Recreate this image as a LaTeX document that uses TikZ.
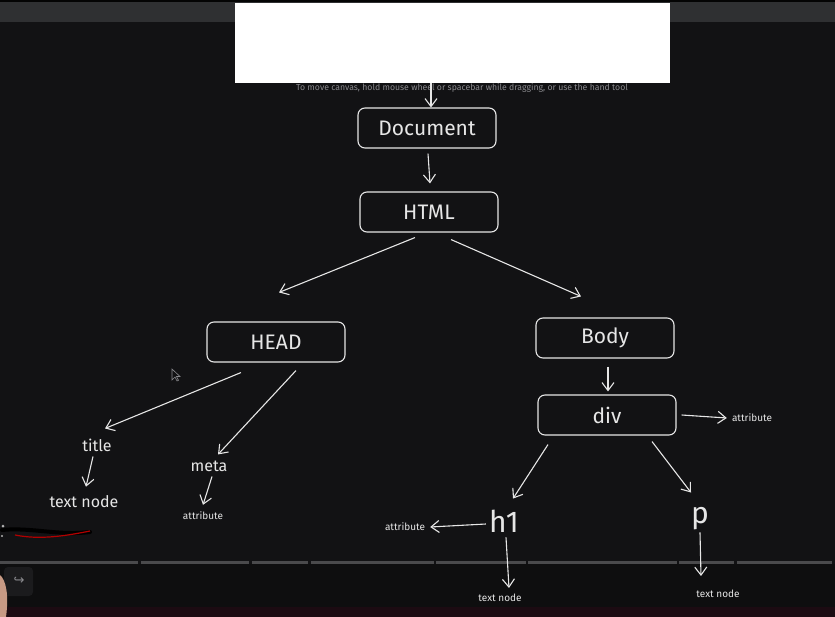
\documentclass[tikz,border=0pt]{standalone}
\usepackage{fontspec}
\setmainfont{Fira Sans}
\newfontfamily\symfont{DejaVu Sans}
\usetikzlibrary{arrows.meta}
\definecolor{bg}{HTML}{121214}
\definecolor{topbar}{HTML}{2F3032}
\definecolor{ink}{HTML}{E6E6E6}
\definecolor{hint}{HTML}{8A8A8E}
\definecolor{seg}{HTML}{4A4A4C}
\definecolor{bottom}{HTML}{0E0E0F}
\definecolor{strip}{HTML}{1C0B12}
\definecolor{btn}{HTML}{1B1B1D}
\definecolor{skin}{HTML}{C79A84}
\tikzset{
  treebox/.style={draw=ink, line width=1.1pt, rounded corners=7pt, minimum width=138pt, minimum height=40pt, text=ink, font=\fontsize{21}{24}\selectfont},
  lbl/.style={text=ink, inner sep=1pt},
  big/.style={lbl, font=\fontsize{30}{34}\selectfont},
  mid/.style={lbl, font=\fontsize{16}{19}\selectfont},
  small/.style={lbl, font=\fontsize{10}{12}\selectfont},
  conn/.style={draw=ink, line width=1.1pt, -{Straight Barb[length=8pt,width=12pt,line width=1.1pt]}},
  segline/.style={draw=seg, line width=3pt}
}
\begin{document}
\begin{tikzpicture}[x=1pt,y=-1pt]
\useasboundingbox (0,0) rectangle (835,617);
\fill[bg] (0,0) rectangle (835,617);
\fill[topbar] (0,2) rectangle (835,22);
\fill[black!80!bg] (0,0) rectangle (835,2);
\fill[bottom] (0,564) rectangle (835,607);
\fill[strip] (0,607) rectangle (835,617);
% white box
\fill[white] (235,3) rectangle (670,83);
\node[text=hint, font=\fontsize{8.7}{10}\selectfont] (hintt) at (462,88) {To move canvas, hold mouse wheel or spacebar while dragging, or use the hand tool};
% segments
\foreach \a/\b in {0/138,141/249,252/308,311/434,436/526,528/677,679/734,737/832}
  \draw[segline] (\a,562) -- (\b,562);
% boxes
\node[treebox] (doc) at (427,128) {Document};
\node[treebox] (html) at (429,212) {HTML};
\node[treebox] (head) at (276,342) {HEAD};
\node[treebox] (body) at (605,338) {Body};
\node[treebox] (div) at (607,415) {div};
% labels
\node[mid] (title) at (97,445) {title};
\node[mid] (tn1) at (84,502) {text node};
\node[mid] (meta) at (209,466) {meta};
\node[small] (at1) at (203,516) {attribute};
\node[small] (at2) at (752,418) {attribute};
\node[big] (h1) at (504,521) {h1};
\node[small] (at3) at (405,527) {attribute};
\node[small] (tn2) at (500,598) {text node};
\node[big] (p) at (700,519) {p};
\node[small] (tn3) at (718,594) {text node};
% top arrow
\coordinate (topin) at (431,83);
\draw[conn] (topin) -- (doc.north -| topin);
% connectors
\draw[conn] ([xshift=1pt,yshift=-5pt]doc.south) -- ([xshift=1pt,yshift=8pt]html.north);
\draw[conn] ([xshift=-14pt,yshift=-5pt]html.south) -- ([xshift=3pt,yshift=29pt]head.north);
\draw[conn] ([xshift=22pt,yshift=-7pt]html.south) -- ([xshift=-24pt,yshift=21pt]body.north);
\draw[conn] ([xshift=3pt,yshift=-8pt]body.south) -- ([xshift=1pt,yshift=3pt]div.north);
\draw[conn] ([xshift=5pt]div.east) -- ([xshift=-4pt]at2.west);
\draw[conn] ([xshift=-35pt,yshift=-10pt]head.south) -- ([xshift=8pt,yshift=9pt]title.north);
\draw[conn] ([xshift=20pt,yshift=-8pt]head.south) -- ([xshift=9pt,yshift=5pt]meta.north);
\draw[conn] ([xshift=-4pt,yshift=-4pt]title.south) -- ([xshift=2pt,yshift=8pt]tn1.north);
\draw[conn] ([xshift=3pt,yshift=-4pt]meta.south) -- ([yshift=6pt]at1.north);
\draw[conn] ([xshift=-59pt,yshift=-9pt]div.south) -- ([xshift=9pt,yshift=10pt]h1.north);
\draw[conn] ([xshift=45pt,yshift=-6pt]div.south) -- ([xshift=-9pt,yshift=14pt]p.north);
\draw[conn] ([xshift=-2pt,yshift=-3pt]h1.west) -- ([xshift=4pt]at3.east);
\draw[conn] ([xshift=2pt,yshift=-4pt]h1.south) -- ([xshift=9pt,yshift=5pt]tn2.north);
\draw[conn] ([yshift=-1pt]p.south) -- ([xshift=-17pt,yshift=13pt]tn3.north);
% cursor
\draw[hint, line width=0.6pt, fill=bg] (172,369) -- (172,380) -- (175,377) -- (177,381) -- (178.5,380.3) -- (176.5,376.5) -- (180,376.5) -- cycle;
% webcam artefacts
\draw[black, line width=4pt, line cap=round] (2,530) .. controls (30,527) and (60,536) .. (90,532);
\draw[red!70!black, line width=1.2pt] (15,535) .. controls (40,540) and (65,536) .. (90,531);
\fill[white!70!black] (3,526) circle (1.5pt);
\fill[white!70!black] (2,536) circle (1.2pt);
% button
\fill[btn, rounded corners=4pt] (4,567) rectangle (33,596);
\node[text=hint, font=\symfont\fontsize{13}{15}\selectfont] (redo) at (19,581) {↪};
\fill[skin] (0,575) .. controls (6,580) and (9,595) .. (6,617) -- (0,617) -- cycle;
\end{tikzpicture}
\end{document}
